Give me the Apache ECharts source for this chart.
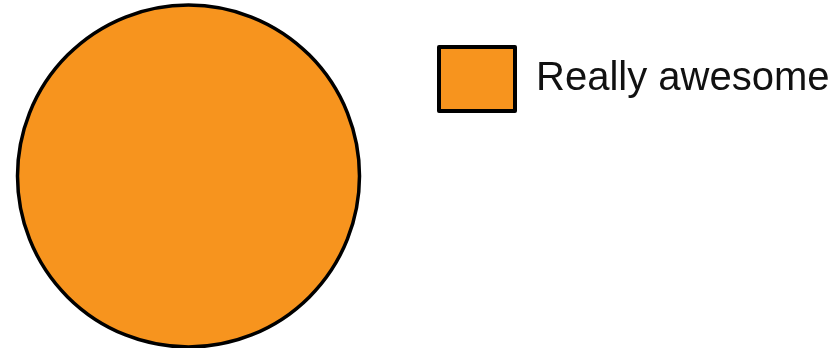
<!DOCTYPE html>
<html>
<head>
<meta charset="utf-8">
<script src="https://cdn.jsdelivr.net/npm/echarts@6/dist/echarts.min.js"></script>
<style>
html,body{margin:0;padding:0;background:#fff;}
#chart{width:839px;height:348px;}
</style>
</head>
<body>
<div id="chart"></div>
<script>
var categories = ['Really awesome'];
var values = [100];
var colors = ['#F7941E'];

var chart = echarts.init(document.getElementById('chart'), null, {renderer: 'canvas'});
var data = categories.map(function (c, i) {
  return { name: c, value: values[i], itemStyle: { color: colors[i] } };
});
chart.setOption({
  animation: false,
  backgroundColor: '#ffffff',
  legend: {
    left: 432,
    top: 40,
    orient: 'vertical',
    icon: 'rect',
    itemWidth: 76,
    itemHeight: 64,
    selectedMode: false,
    itemStyle: { borderColor: '#000', borderWidth: 4 },
    textStyle: {
      fontFamily: 'Liberation Sans, Arial, sans-serif',
      fontSize: 40,
      color: '#111',
      padding: [0, 0, 0, 16]
    },
    data: categories
  },
  series: [{
    type: 'pie',
    center: [188.5, 176],
    radius: 171,
    silent: true,
    label: { show: false },
    labelLine: { show: false },
    itemStyle: { borderColor: '#000', borderWidth: 3.5 },
    data: data
  }]
});
</script>
</body>
</html>
